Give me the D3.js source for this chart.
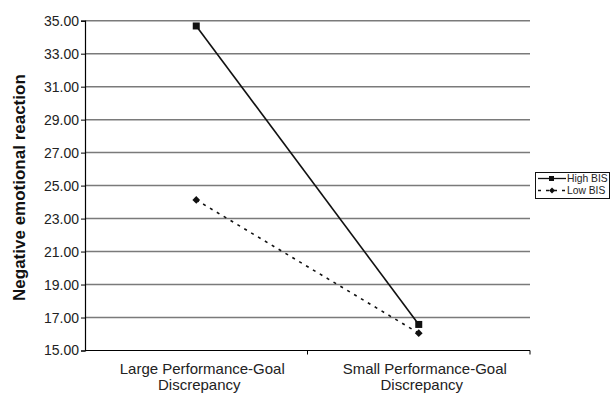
<!DOCTYPE html>
<html><head><meta charset="utf-8">
<script src="https://cdn.jsdelivr.net/npm/d3@7"></script>
<style>body{margin:0;background:#fff}svg{display:block;font-family:"Liberation Sans",Arial,sans-serif}</style>
</head><body><svg id="c" width="613" height="393"></svg>
<script>
const categories = [["Large Performance-Goal","Discrepancy"],["Small Performance-Goal","Discrepancy"]];
const highBIS = [34.68, 16.58];
const lowBIS = [24.13, 16.05];
const seriesNames = ["High BIS","Low BIS"];
const yTicks = [15,17,19,21,23,25,27,29,31,33,35];

const svg = d3.select("#c");
const L=85, R=530, T=20.7, B=350.5;
const x = d3.scaleBand().domain([0,1]).range([L,R]);
const y = d3.scaleLinear().domain([15,35]).range([B,T]);
const FF = "Liberation Sans, Arial, sans-serif";

// gridlines
svg.append("g").selectAll("line").data(yTicks.slice(1)).join("line")
  .attr("x1",L).attr("x2",R).attr("y1",d=>y(d)).attr("y2",d=>y(d))
  .attr("stroke","#7a7a7a").attr("stroke-width",1.5);

// y axis
const ya = svg.append("g").attr("transform",`translate(${L},0)`)
  .call(d3.axisLeft(y).tickValues(yTicks).tickFormat(d3.format(".2f")).tickSize(4).tickPadding(2));
ya.select(".domain").attr("stroke","#000").attr("stroke-width",1.2);
ya.selectAll(".tick line").attr("stroke","#000");
ya.selectAll("text").attr("font-size",14).attr("fill","#222").attr("font-family",FF);

// x axis
const xa = svg.append("g").attr("transform",`translate(0,${B})`);
xa.append("line").attr("x1",L).attr("x2",R).attr("stroke","#000").attr("stroke-width",1.2);
[L+x.bandwidth(), R].forEach(v=>xa.append("line").attr("x1",v).attr("x2",v).attr("y1",0).attr("y2",4).attr("stroke","#000"));
categories.forEach((c,i)=>{
  const t = xa.append("text").attr("text-anchor","middle").attr("font-size",15).attr("fill","#222").attr("font-family",FF);
  c.forEach((s,j)=>t.append("tspan").attr("x",x(i)+x.bandwidth()/2 + 6 - j*3).attr("y",23.5+j*16).text(s));
});

// y title
svg.append("text").attr("transform",`translate(25,${(T+B)/2 + 2}) rotate(-90)`)
  .attr("text-anchor","middle").attr("font-size",17).attr("font-weight","bold").attr("fill","#111").attr("font-family",FF)
  .text("Negative emotional reaction");

const cx = i=>x(i)+x.bandwidth()/2;
const line = d3.line().x((d,i)=>cx(i)).y(d=>y(d));
svg.append("path").attr("d",line(highBIS)).attr("fill","none").attr("stroke","#111").attr("stroke-width",1.6);
svg.append("path").attr("d",line(lowBIS)).attr("fill","none").attr("stroke","#111").attr("stroke-width",1.6).attr("stroke-dasharray","3,5");
svg.append("g").selectAll("rect").data(highBIS).join("rect")
  .attr("x",(d,i)=>cx(i)-3.5).attr("y",d=>y(d)-3.5).attr("width",7).attr("height",7).attr("fill","#111");
const diamond = d3.symbol().type(d3.symbolSquare).size(30);
svg.append("g").selectAll("path").data(lowBIS).join("path")
  .attr("transform",(d,i)=>`translate(${cx(i)},${y(d)}) rotate(45)`).attr("d",diamond).attr("fill","#111");

// legend
const lg = svg.append("g");
lg.append("rect").attr("x",535.5).attr("y",172.5).attr("width",74).attr("height",26).attr("fill","#fff").attr("stroke","#111").attr("stroke-width",1);
[0,1].forEach(i=>{
  const yy = 178.5 + i*12;
  lg.append("line").attr("x1",538).attr("x2",566).attr("y1",yy).attr("y2",yy).attr("stroke","#111").attr("stroke-width",1.3)
    .attr("stroke-dasharray", i? "3,5":null);
  if(i===0) lg.append("rect").attr("x",549).attr("y",yy-2.5).attr("width",5).attr("height",5).attr("fill","#111");
  else lg.append("path").attr("transform",`translate(552,${yy}) rotate(45)`).attr("d",d3.symbol().type(d3.symbolSquare).size(18)).attr("fill","#111");
  lg.append("text").attr("x",567).attr("y",yy+3.5).attr("font-size",10.3).attr("fill","#222").attr("font-family",FF).text(seriesNames[i]);
});
</script></body></html>
